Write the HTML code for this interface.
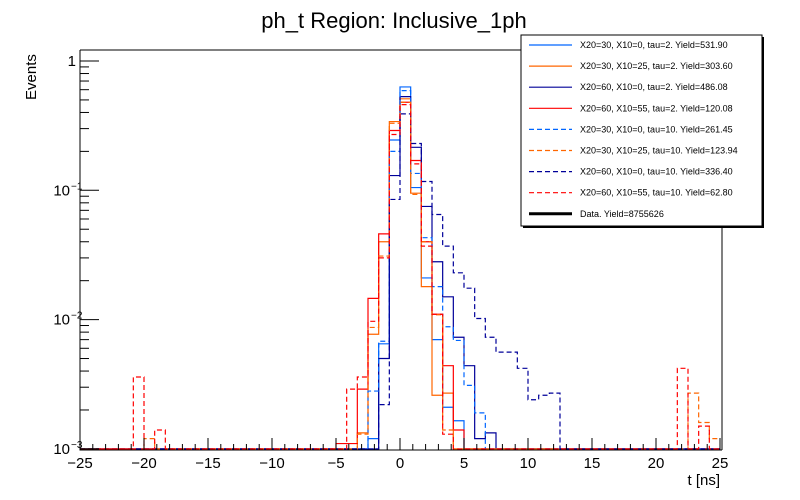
<!DOCTYPE html>
<html><head><meta charset="utf-8"><style>
body{margin:0;background:#fff}
svg{display:block;font-family:"Liberation Sans",Arial,sans-serif}
</style></head><body>
<svg id="chart" width="800" height="500" viewBox="0 0 800 500">
<rect width="800" height="500" fill="#fff"/>
<text x="394" y="28" font-size="22" text-anchor="middle">ph_t Region: Inclusive_1ph</text>
<defs><clipPath id="pc"><rect x="80" y="50" width="642" height="400"/></clipPath></defs>
<g id="series" clip-path="url(#pc)"></g>
<g id="axes"></g>
<text transform="translate(36,100) rotate(-90)" font-size="15">Events</text>
<text x="720" y="485" font-size="15" text-anchor="end">t [ns]</text>
<g id="legend"></g>
</svg>
<script>
const xMin=-25,xMax=25,nBins=60;
const yMinLog=-3;
const xTicks=[-25,-20,-15,-10,-5,0,5,10,15,20,25];
const yTicks=[0,-1,-2,-3];
const seriesNames=["X20=30, X10=0, tau=2. Yield=531.90","X20=30, X10=25, tau=2. Yield=303.60","X20=60, X10=0, tau=2. Yield=486.08","X20=60, X10=55, tau=2. Yield=120.08","X20=30, X10=0, tau=10. Yield=261.45","X20=30, X10=25, tau=10. Yield=123.94","X20=60, X10=0, tau=10. Yield=336.40","X20=60, X10=55, tau=10. Yield=62.80"];
const seriesColors=["#0066ff","#ff6600","#000099","#ff0000","#0066ff","#ff6600","#000099","#ff0000"];
const seriesDashed=[false,false,false,false,true,true,true,true];
const seriesStart=[27,26,28,24,27,26,28,25];
const s0=[0.0012,0.0065,0.245,0.63,0.105,0.021,0.007,0.0021,0.00165];
const s1=[0.00133,0.0077,0.04,0.34,0.51,0.095,0.018,0.0026,0.0027];
const s2=[0.005,0.13,0.53,0.215,0.075,0.028,0.015,0.0073,0.0044,0.0012,0.00133];
const s3=[0.0011,0.0011,0.0029,0.0146,0.046,0.29,0.48,0.17,0.04,0.011,0.0044,0.0014];
const s4=[0.0028,0.0068,0.2,0.59,0.135,0.043,0.018,0.0088,0.0069,0.0031,0.0019];
const s5=[0.0013,0.0087,0.031,0.33,0.48,0.093,0.04,0.0109,0.0014];
const s6=[0.0022,0.085,0.39,0.23,0.117,0.065,0.037,0.023,0.0175,0.0102,0.0073,0.0056,0.0056,0.0042,0.0024,0.0026,0.0027];
const s7=[0.0029,0.0036,0.0097,0.03,0.27,0.46,0.16,0.037,0.011,0.0013];
const s5OutBins=[6,57,58,59];
const s5OutVals=[0.0012,0.0027,0.0016,0.0012];
const s7OutBins=[5,7,56,58];
const s7OutVals=[0.0036,0.0014,0.0042,0.0015];
const seriesVals=[s0,s1,s2,s3,s4,s5,s6,s7];

const NS="http://www.w3.org/2000/svg";
const X0=80,X1=720,YB=449,Y1=61,DEC=129.3;
function xs(v){return X0+(v-xMin)/(xMax-xMin)*(X1-X0);}
function ys(v){if(v<=0)return YB;return Math.min(YB,Y1-Math.log10(v)*DEC);}
function mk(t,a,p){const e=document.createElementNS(NS,t);for(const k in a)e.setAttribute(k,a[k]);p.appendChild(e);return e;}
const bw=(xMax-xMin)/nBins;
const sg=document.getElementById('series');
seriesVals.forEach((vals,si)=>{
  const full=new Array(nBins).fill(0);
  vals.forEach((v,i)=>{full[seriesStart[si]+i]=v;});
  if(si===5)s5OutBins.forEach((b,i)=>{full[b]=s5OutVals[i];});
  if(si===7)s7OutBins.forEach((b,i)=>{full[b]=s7OutVals[i];});
  let d="M"+xs(xMin)+","+ys(full[0]);
  for(let i=0;i<nBins;i++){
    const xa=xs(xMin+i*bw),xb=xs(xMin+(i+1)*bw);
    d+=" L"+xa.toFixed(2)+","+ys(full[i]).toFixed(2)+" L"+xb.toFixed(2)+","+ys(full[i]).toFixed(2);
  }
  const p=mk('path',{d:d,fill:'none',stroke:seriesColors[si],'stroke-width':1.2},sg);
  if(seriesDashed[si])p.setAttribute('stroke-dasharray','5,3');
  
  
});
const ax=document.getElementById('axes');
const frame=mk('path',{d:"M80,50 L521,50 M80,50 L80,450 L722,450 M722,227 L722,450",fill:'none',stroke:'#000','stroke-width':1},ax);


for(let v=xMin;v<=xMax;v+=1){
  const major=(v%5===0);
  mk('line',{x1:xs(v),x2:xs(v),y1:450,y2:major?438:444,stroke:'#000'},ax);
}
xTicks.forEach(v=>{
  const t=mk('text',{x:xs(v),y:468,'font-size':15,'text-anchor':'middle'},ax);
  t.textContent=(v<0?"\u2212"+(-v):String(v));
  
  
});
for(let e=-3;e<=0;e++){
  for(let m=1;m<=9;m++){
    const v=Math.pow(10,e)*m; if(v>1.3)break;
    const y=ys(v); if(y<50)continue;
    mk('line',{x1:80,x2:m===1?99:89,y1:y,y2:y,stroke:'#000'},ax);
  }
}
yTicks.forEach(e=>{
  const y=ys(Math.pow(10,e));
  const t=mk('text',{x:e===0?76:70,y:y+5,'font-size':15,'text-anchor':'end'},ax);
  
  
  if(e===0){t.textContent="1";}
  else{
    t.textContent="10";
    const s=mk('text',{x:71,y:y-1,'font-size':10,'text-anchor':'start'},ax);
    s.textContent="\u2212"+(-e);
    
    
  }
});
const lg=document.getElementById('legend');
mk('rect',{x:523,y:37,width:241,height:191,fill:'#000'},lg);
mk('rect',{x:521,y:35,width:241,height:191,fill:'#fff',stroke:'#000'},lg);
const labels=seriesNames.concat(["Data. Yield=8755626"]);
labels.forEach((n,i)=>{
  const y=45+i*21.1;
  const l=mk('line',{x1:529,x2:572,y1:y,y2:y,stroke:i<8?seriesColors[i]:'#000','stroke-width':i<8?1.2:3},lg);
  if(i<8&&seriesDashed[i])l.setAttribute('stroke-dasharray','5,3');
  const t=mk('text',{x:580,y:y+3,'font-size':9},lg);
  t.textContent=n;
  
  
});
</script>
</body></html>
